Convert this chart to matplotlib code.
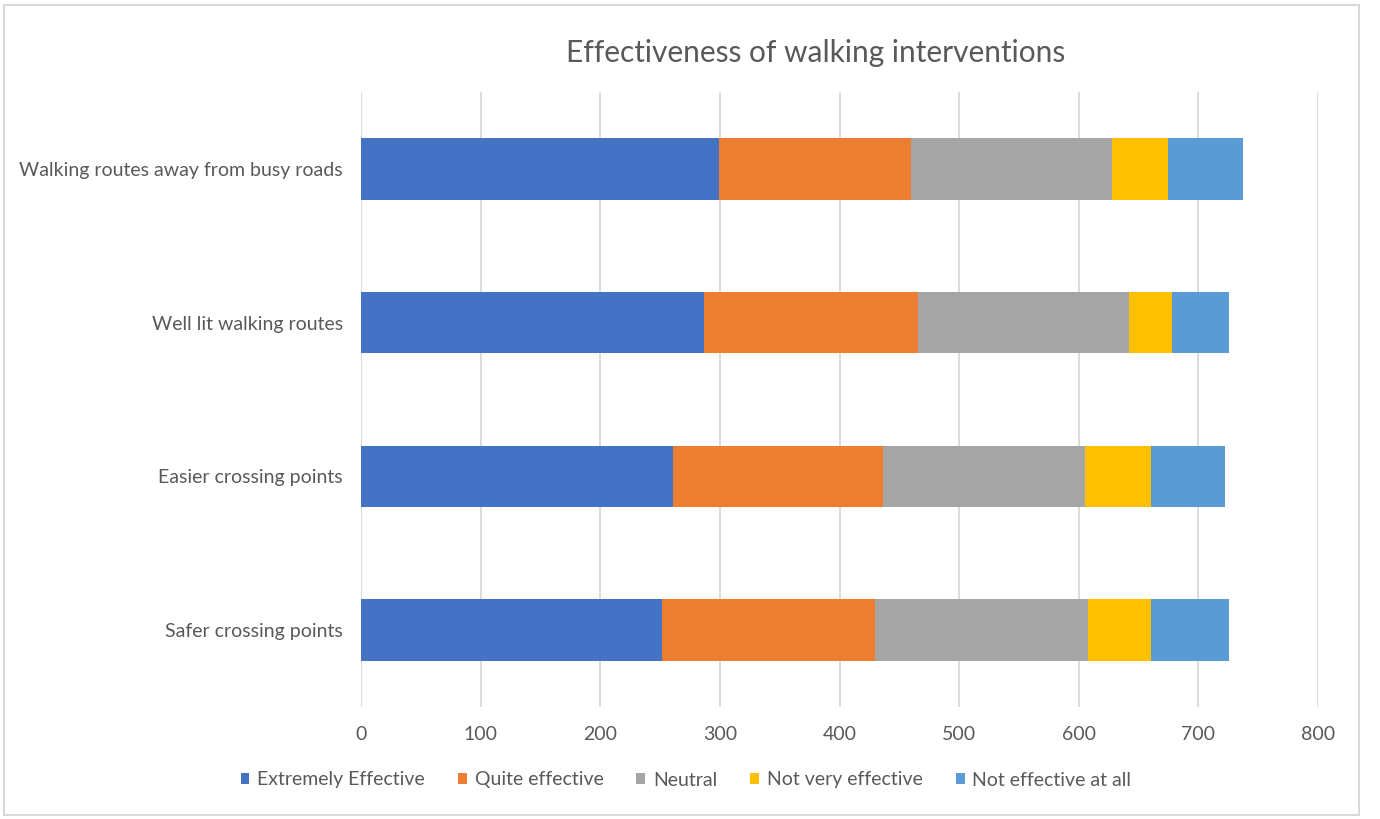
import matplotlib
matplotlib.use("Agg")
import matplotlib.pyplot as plt
from matplotlib.patches import Rectangle
import numpy as np

plt.rcParams['font.family'] = ['Lato', 'DejaVu Sans']

categories = [
    "Safer crossing points",
    "Easier crossing points",
    "Well lit walking routes",
    "Walking routes away from busy roads",
]
series_names = [
    "Extremely Effective",
    "Quite effective",
    "Neutral",
    "Not very effective",
    "Not effective at all",
]
extremely_effective = [252, 261, 287, 299]
quite_effective = [178, 175, 179, 161]
neutral = [178, 169, 176, 168]
not_very_effective = [52, 55, 36, 47]
not_effective_at_all = [66, 62, 48, 62]
series_values = [extremely_effective, quite_effective, neutral,
                 not_very_effective, not_effective_at_all]
colors = ["#4472C4", "#ED7D31", "#A5A5A5", "#FFC000", "#5B9BD5"]
x_ticks = [0, 100, 200, 300, 400, 500, 600, 700, 800]

text_color = "#595959"

fig = plt.figure(figsize=(13.8, 8.19), dpi=100)
ax = fig.add_axes([361 / 1380, 1 - 707 / 819, (1318 - 361) / 1380, (707 - 92) / 819])

y = np.arange(len(categories))
left = np.zeros(len(categories))
for name, vals, col in zip(series_names, series_values, colors):
    ax.barh(y, vals, left=left, height=0.4, color=col, label=name, zorder=3)
    left += np.array(vals)

ax.set_xlim(0, 800)
ax.set_ylim(-0.5, len(categories) - 0.5)
ax.set_xticks(x_ticks)
ax.set_yticks(y)
ax.set_yticklabels(categories)
ax.grid(axis="x", color="#D9D9D9", linewidth=1.3, zorder=0)
for s in ax.spines.values():
    s.set_visible(False)
ax.tick_params(axis="both", length=0, colors=text_color, labelsize=14)
ax.tick_params(axis="x", pad=14)
ax.tick_params(axis="y", pad=13)

fig.text(816 / 1380, 1 - 53 / 819, "Effectiveness of walking interventions",
         ha="center", va="center", fontsize=21.5, color=text_color)

leg = fig.legend(loc="center", bbox_to_anchor=(686 / 1380, 1 - 780 / 819), ncol=5,
                 frameon=False, fontsize=14, handlelength=0.45, handleheight=0.55,
                 handletextpad=0.4, columnspacing=1.7)
for t in leg.get_texts():
    t.set_color(text_color)

fig.patches.append(Rectangle((4 / 1380, 4 / 819), (1359 - 4) / 1380, (815 - 5) / 819,
                             transform=fig.transFigure, fill=False,
                             edgecolor="#D9D9D9", linewidth=1.5))

fig.savefig("out.png", dpi=100)
